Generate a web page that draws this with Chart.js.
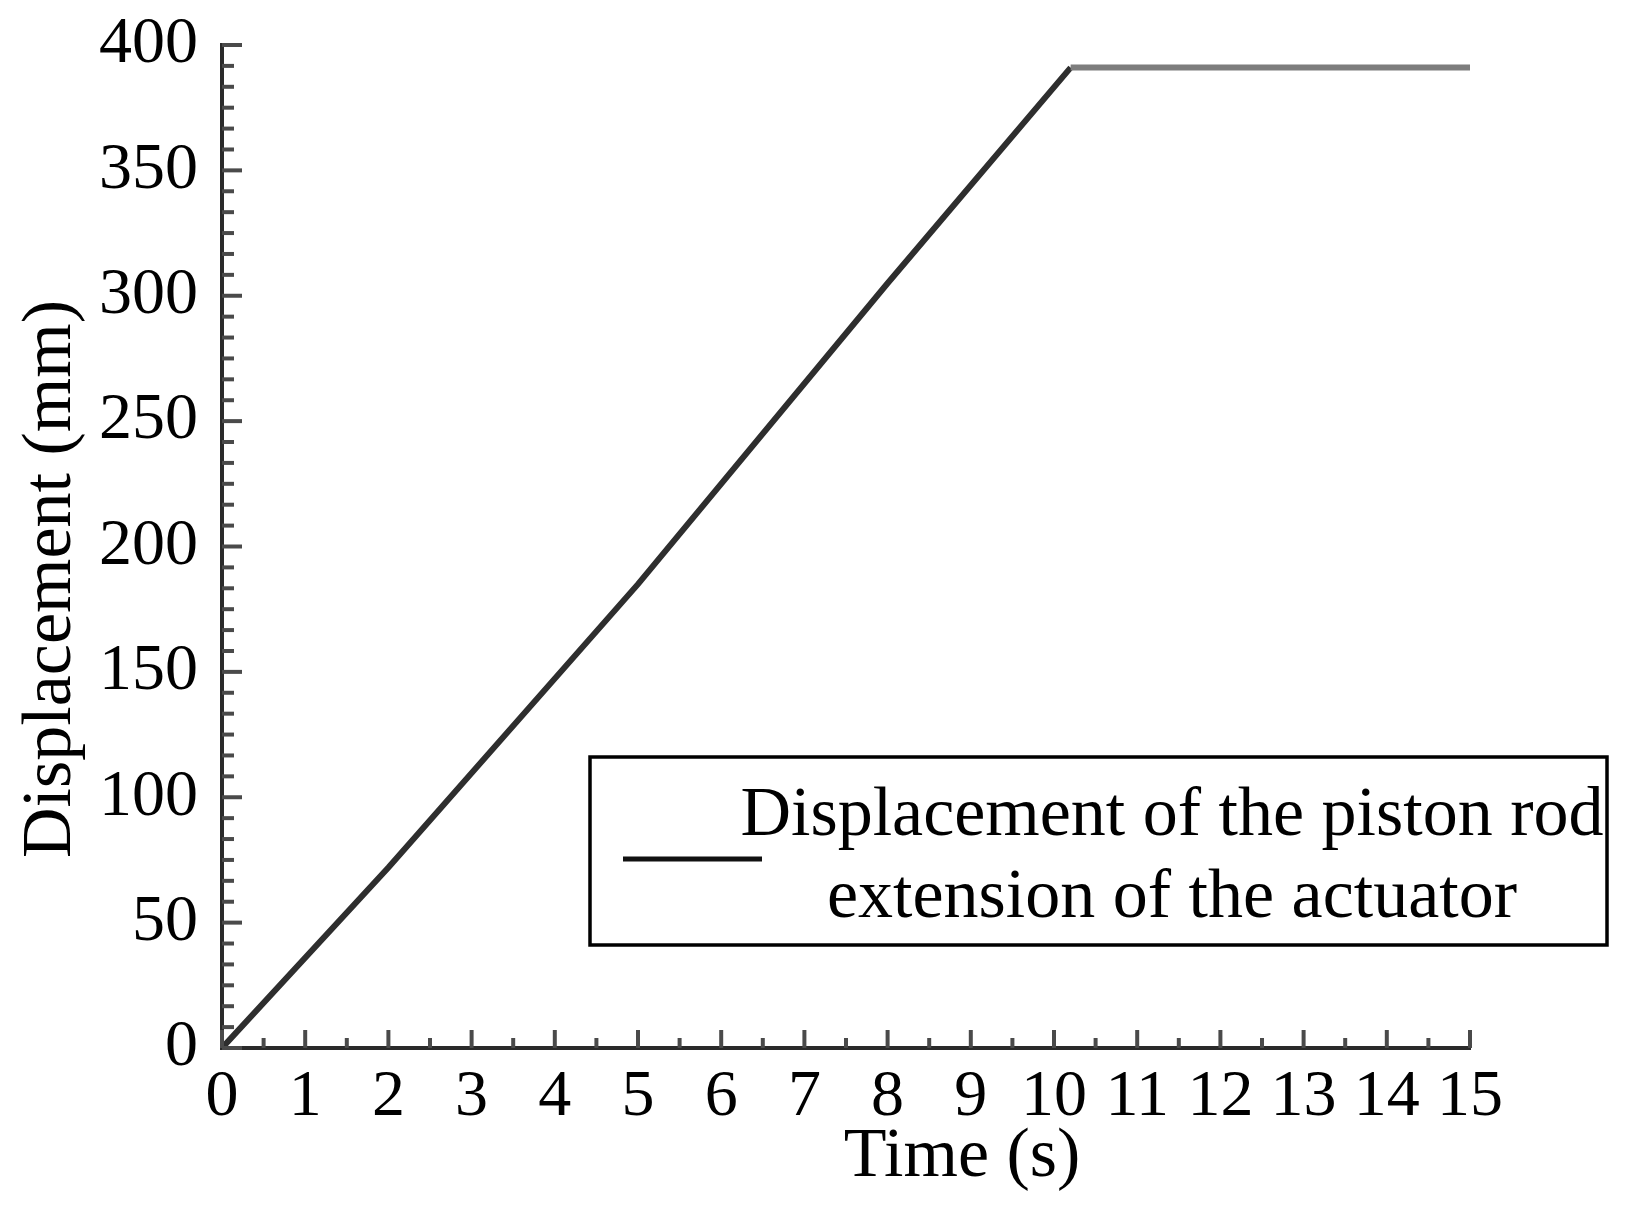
<!DOCTYPE html>
<html lang="en">
<head>
    <meta charset="UTF-8">
    <title>Displacement of the piston rod</title>
    <script src="https://cdn.jsdelivr.net/npm/chart.js"></script>
    <style>
        html, body { margin: 0; padding: 0; background: #fff; }
        #chartBox { width: 1637px; height: 1217px; }
    </style>
</head>
<body>
    <div id="chartBox">
        <canvas id="displacementChart" width="1637" height="1217"></canvas>
    </div>

    <script>
        // values
        const tempos = [0, 2, 5, 8, 10.2, 15];
        const deslocamentos = [0, 72, 185, 305, 391, 391];
        const xTicks = [0, 1, 2, 3, 4, 5, 6, 7, 8, 9, 10, 11, 12, 13, 14, 15];
        const yTicks = [0, 50, 100, 150, 200, 250, 300, 350, 400];
        const legendaLinhas = ['Displacement of the piston rod', 'extension of the actuator'];
        const tituloX = 'Time (s)';
        const tituloY = 'Displacement (mm)';

        const fonte = '"Liberation Serif", "Times New Roman", serif';

        // ticks pointing inside, titles and the boxed legend
        const extras = {
            id: 'extras',
            afterDraw(chart) {
                const c = chart.ctx;
                const xs = chart.scales.x;
                const ys = chart.scales.y;
                const area = chart.chartArea;

                c.save();
                c.strokeStyle = '#4a4a4a';
                c.lineWidth = 4;
                // x ticks, one minor between integers
                for (let i = 0; i <= (xTicks.length - 1) * 2; i++) {
                    const v = i / 2;
                    const px = xs.getPixelForValue(v);
                    const len = i % 2 === 0 ? 18 : 10;
                    c.beginPath();
                    c.moveTo(px, area.bottom);
                    c.lineTo(px, area.bottom - len);
                    c.stroke();
                }
                // y ticks, six steps between labels
                for (let i = 0; i <= (yTicks.length - 1) * 6; i++) {
                    const v = i * 50 / 6;
                    const py = ys.getPixelForValue(v);
                    const len = i % 6 === 0 ? 20 : 12;
                    c.beginPath();
                    c.moveTo(area.left, py);
                    c.lineTo(area.left + len, py);
                    c.stroke();
                }

                // axis titles
                c.fillStyle = '#000';
                c.font = '70px ' + fonte;
                c.textAlign = 'center';
                c.textBaseline = 'middle';
                c.fillText(tituloX, 962, 1158);
                c.save();
                c.translate(52, 579);
                c.rotate(-Math.PI / 2);
                c.fillText(tituloY, 0, 0);
                c.restore();

                // legend
                c.strokeStyle = '#000';
                c.lineWidth = 3.5;
                c.strokeRect(590, 757, 1017, 188);
                c.strokeStyle = '#111';
                c.lineWidth = 5;
                c.beginPath();
                c.moveTo(623, 859);
                c.lineTo(762, 859);
                c.stroke();
                c.textBaseline = 'alphabetic';
                c.fillText(legendaLinhas[0], 1172, 835);
                c.fillText(legendaLinhas[1], 1172, 917);
                c.restore();
            }
        };

        const ctx = document.getElementById('displacementChart').getContext('2d');
        new Chart(ctx, {
            type: 'line',
            data: {
                datasets: [{
                    label: legendaLinhas.join(' '),
                    data: tempos.map((t, i) => ({ x: t, y: deslocamentos[i] })),
                    borderColor: '#2e2e2e',
                    borderWidth: 6,
                    pointRadius: 0,
                    tension: 0,
                    fill: false,
                    segment: {
                        borderColor: s => s.p0.parsed.y === s.p1.parsed.y ? '#7d7d7d' : '#2e2e2e'
                    }
                }]
            },
            options: {
                responsive: false,
                animation: false,
                layout: { padding: { top: 45, right: 167, left: 0, bottom: 0 } },
                plugins: {
                    legend: { display: false },
                    tooltip: { enabled: false }
                },
                scales: {
                    x: {
                        type: 'linear',
                        min: 0,
                        max: 15,
                        afterFit: s => { s.height = 169; },
                        afterBuildTicks: s => { s.ticks = xTicks.map(v => ({ value: v })); },
                        grid: { display: false, drawTicks: false },
                        border: { display: true, color: '#2a2a2a', width: 4 },
                        ticks: {
                            padding: 10,
                            maxRotation: 0,
                            autoSkip: false,
                            color: '#000',
                            font: { family: fonte, size: 66 }
                        }
                    },
                    y: {
                        min: 0,
                        max: 400,
                        afterFit: s => {
                            s.width = 222;
                            s.paddingTop = 0;
                            s.paddingBottom = 0;
                        },
                        afterBuildTicks: s => { s.ticks = yTicks.map(v => ({ value: v })); },
                        grid: { display: false, drawTicks: false },
                        border: { display: true, color: '#2a2a2a', width: 4 },
                        ticks: {
                            padding: 24,
                            autoSkip: false,
                            color: '#000',
                            font: { family: fonte, size: 66 }
                        }
                    }
                }
            },
            plugins: [extras]
        });
    </script>
</body>
</html>
